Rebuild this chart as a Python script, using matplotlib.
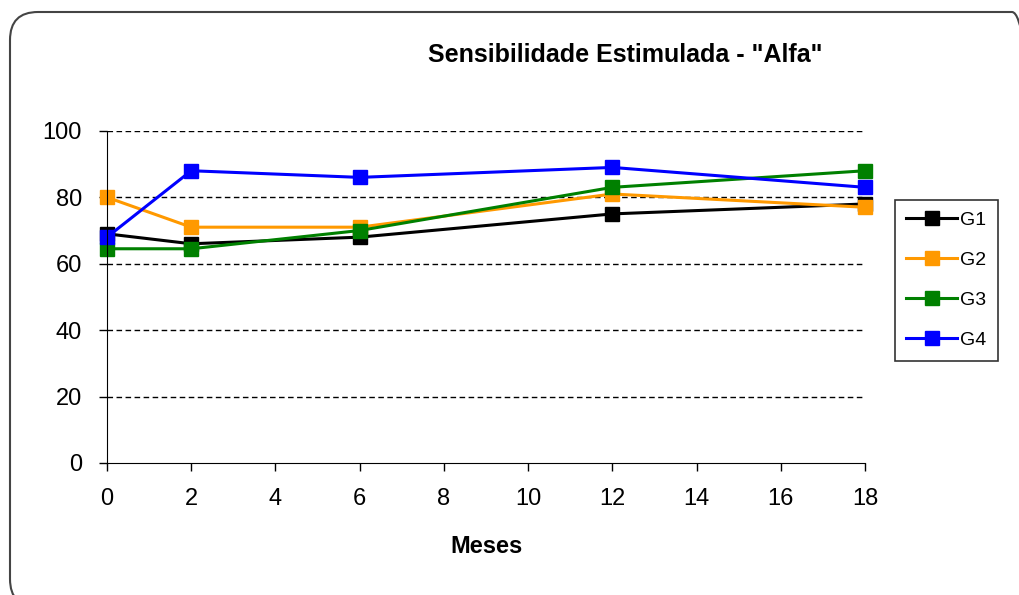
import matplotlib
matplotlib.use("Agg")
import matplotlib.pyplot as plt
from matplotlib.patches import FancyBboxPatch
from matplotlib.transforms import IdentityTransform

plt.rcParams["font.family"] = ["Liberation Sans", "DejaVu Sans"]

# months and group values
meses = [0, 2, 6, 12, 18]
g1 = [69, 66, 68, 75, 78]
g2 = [80, 71, 71, 81, 77]
g3 = [64.5, 64.5, 70, 83, 88]
g4 = [68, 88, 86, 89, 83]
series = [("G1", g1, "black"), ("G2", g2, "#ff9900"),
          ("G3", g3, "#008000"), ("G4", g4, "#0000ff")]

fig = plt.figure(figsize=(10.19, 5.95), dpi=100)
ax = fig.add_axes([0.105, 0.222, 0.744, 0.558])

# rounded frame of the chart area (pixel coords, runs off the right/bottom edge)
frame = FancyBboxPatch((10, -12), 1030, 595, boxstyle="round,pad=0,rounding_size=28",
                       transform=IdentityTransform(), fill=False, edgecolor="#444444", lw=1.5)
fig.patches.append(frame)

for lbl, vals, col in series:
    ax.plot(meses, vals, "-s", color=col, lw=2.2, ms=10, label=lbl, clip_on=False)

ax.set_xlim(0, 18)
ax.set_ylim(0, 100)
ax.set_xticks(range(0, 19, 2))
ax.set_yticks(range(0, 101, 20))
for y in range(20, 101, 20):
    ax.axhline(y, color="black", ls=(0, (4, 2.5)), lw=1, zorder=0)
ax.spines["top"].set_visible(False)
ax.spines["right"].set_visible(False)
ax.tick_params(direction="out", length=6, width=1, labelsize=17, pad=12)
ax.set_xlabel("Meses", fontsize=17, fontweight="bold", labelpad=18)
fig.text(0.614, 0.907, 'Sensibilidade Estimulada - "Alfa"', fontsize=18,
         fontweight="bold", ha="center", va="center")

leg = fig.legend(loc="center left", bbox_to_anchor=(0.878, 0.529), fontsize=14,
                 frameon=True, fancybox=False, edgecolor="black", handlelength=2.6,
                 labelspacing=1.15, borderpad=0.6, handletextpad=0.15, borderaxespad=0)
leg.get_frame().set_linewidth(1.2)

fig.savefig("out.png", dpi=100)
